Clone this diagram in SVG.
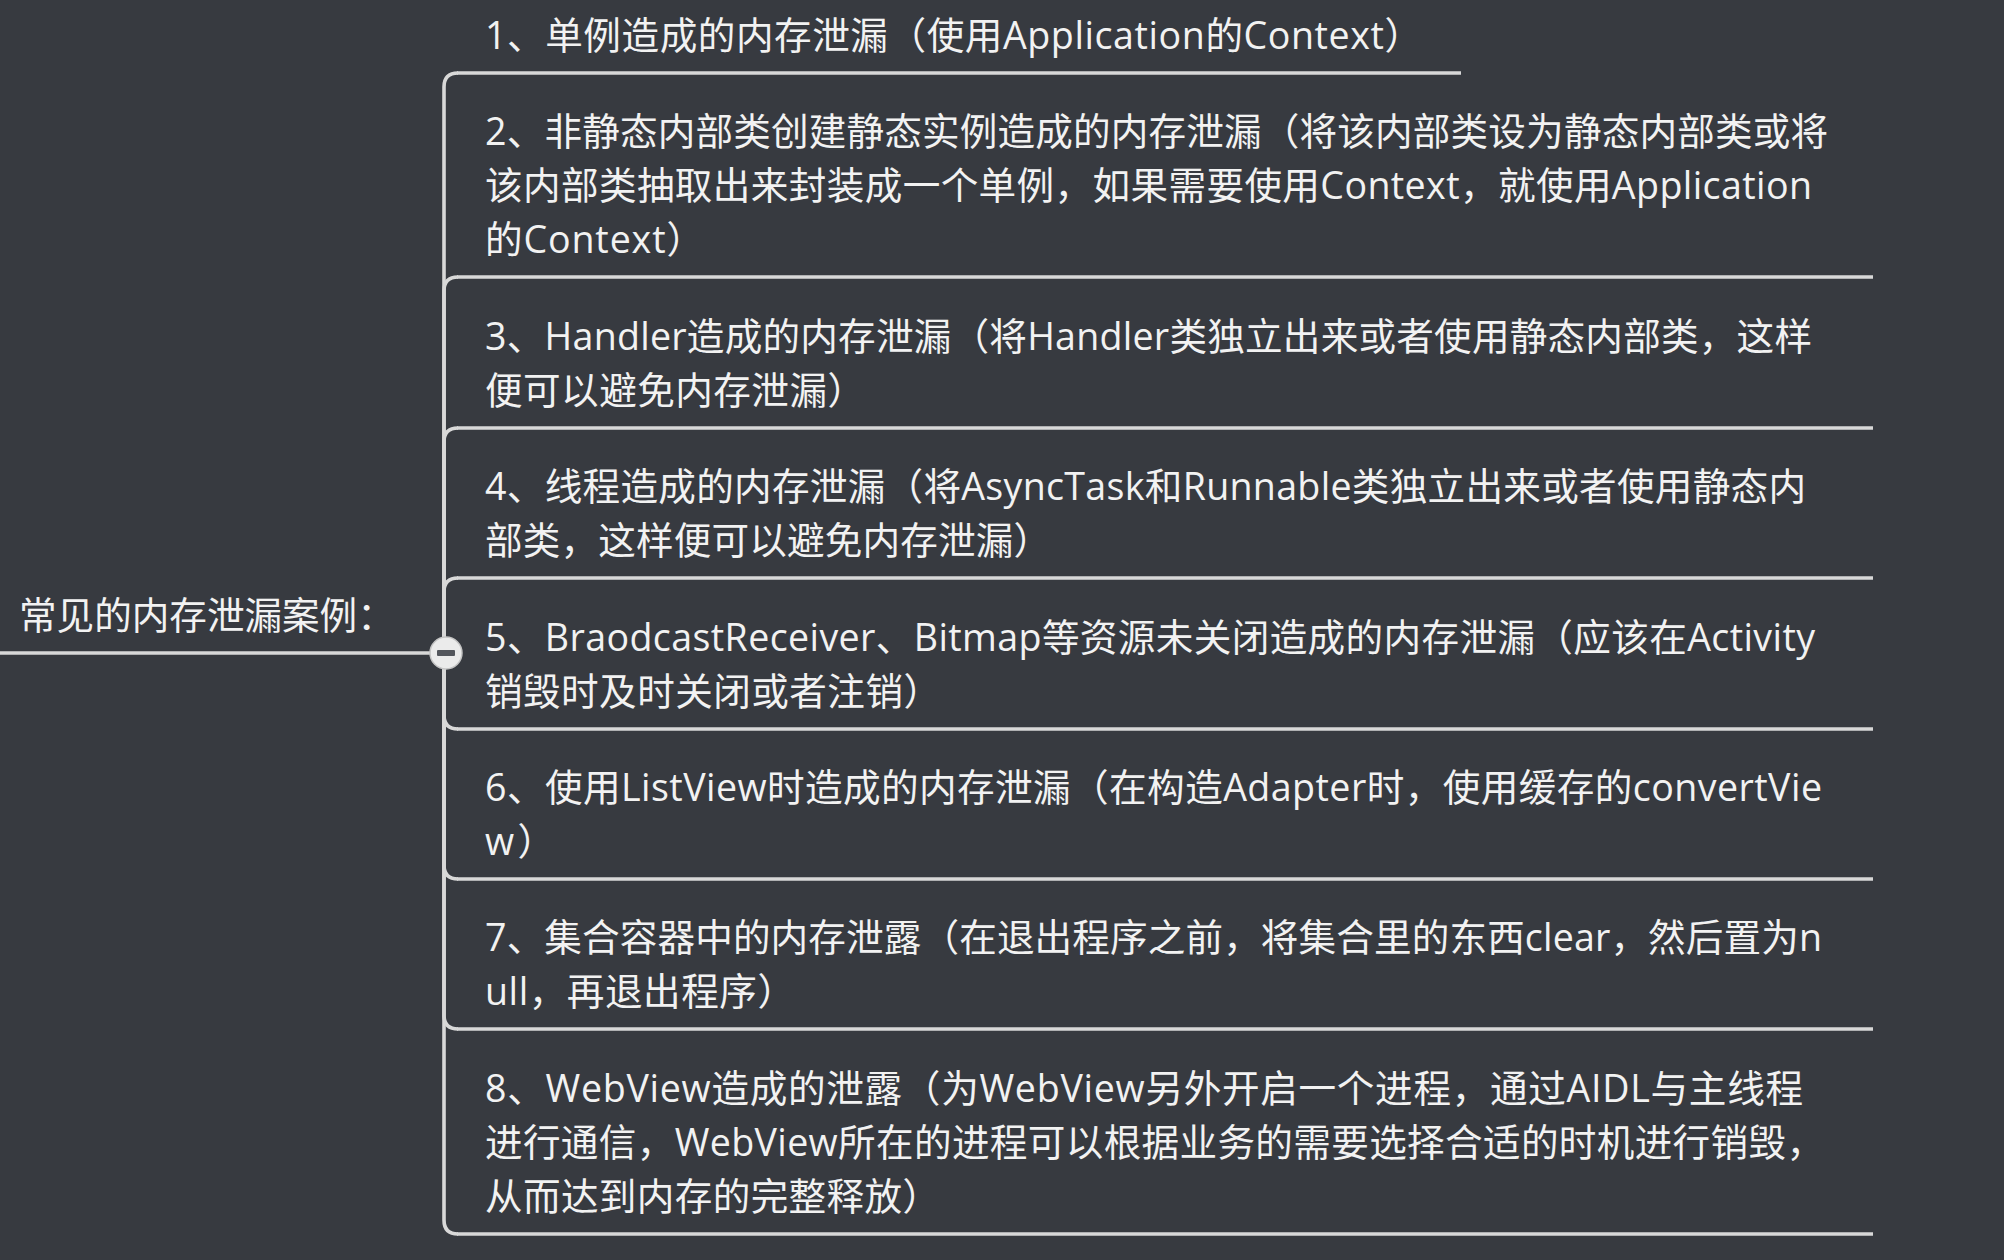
<svg xmlns="http://www.w3.org/2000/svg" width="2004" height="1260" viewBox="0 0 2004 1260">
<style>
.bg{fill:#373a40}
.t{font-family:"Open Sans","Noto Sans CJK SC",sans-serif;font-size:37.6px;fill:#f2f2f2}
.ul{stroke:#d8d8d8;stroke-width:3.6;fill:none;stroke-linecap:butt}
.cn{stroke:#d8d8d8;stroke-width:3.6;fill:none}
</style>
<rect class="bg" x="0" y="0" width="2004" height="1260"/>
<g id="connectors">
<path class="cn" d="M444 653 V87 Q444 73 458 73"/>
<path class="cn" d="M444 653 V291 Q444 277 458 277"/>
<path class="cn" d="M444 653 V442 Q444 428 458 428"/>
<path class="cn" d="M444 653 V592 Q444 578 458 578"/>
<path class="cn" d="M444 653 V715 Q444 729 458 729"/>
<path class="cn" d="M444 653 V865 Q444 879 458 879"/>
<path class="cn" d="M444 653 V1015 Q444 1029 458 1029"/>
<path class="cn" d="M444 653 V1220 Q444 1234 458 1234"/>
</g>
<g id="root">
<line class="ul" x1="0" y1="653" x2="432" y2="653"/>
<text class="t" x="19" y="629">常见的内存泄漏案例：</text>
</g>
<g id="collapse">
<circle cx="446" cy="653" r="16" fill="#ebebeb" stroke="#c4c4c4" stroke-width="1.5"/>
<rect x="437" y="650" width="18" height="6" rx="1" fill="#53565c"/>
</g>
<g id="item1">
<line class="ul" x1="457" y1="73" x2="1461" y2="73"/>
<text class="t" x="485" y="49" textLength="937" lengthAdjust="spacing">1、单例造成的内存泄漏（使用Application的Context）</text>
</g>
<g id="item2">
<line class="ul" x1="457" y1="277" x2="1873" y2="277"/>
<text class="t" x="485" y="145" textLength="1343" lengthAdjust="spacing">2、非静态内部类创建静态实例造成的内存泄漏（将该内部类设为静态内部类或将</text>
<text class="t" x="485" y="199" textLength="1327" lengthAdjust="spacing">该内部类抽取出来封装成一个单例，如果需要使用Context，就使用Application</text>
<text class="t" x="485" y="253" textLength="219" lengthAdjust="spacing">的Context）</text>
</g>
<g id="item3">
<line class="ul" x1="457" y1="428" x2="1873" y2="428"/>
<text class="t" x="485" y="350" textLength="1327" lengthAdjust="spacing">3、Handler造成的内存泄漏（将Handler类独立出来或者使用静态内部类，这样</text>
<text class="t" x="485" y="404" textLength="380" lengthAdjust="spacing">便可以避免内存泄漏）</text>
</g>
<g id="item4">
<line class="ul" x1="457" y1="578" x2="1873" y2="578"/>
<text class="t" x="485" y="500" textLength="1321" lengthAdjust="spacing">4、线程造成的内存泄漏（将AsyncTask和Runnable类独立出来或者使用静态内</text>
<text class="t" x="485" y="554" textLength="566" lengthAdjust="spacing">部类，这样便可以避免内存泄漏）</text>
</g>
<g id="item5">
<line class="ul" x1="457" y1="729" x2="1873" y2="729"/>
<text class="t" x="485" y="651" textLength="1330" lengthAdjust="spacing">5、BraodcastReceiver、Bitmap等资源未关闭造成的内存泄漏（应该在Activity</text>
<text class="t" x="485" y="705" textLength="456" lengthAdjust="spacing">销毁时及时关闭或者注销）</text>
</g>
<g id="item6">
<line class="ul" x1="457" y1="879" x2="1873" y2="879"/>
<text class="t" x="485" y="801" textLength="1337" lengthAdjust="spacing">6、使用ListView时造成的内存泄漏（在构造Adapter时，使用缓存的convertVie</text>
<text class="t" x="485" y="855" textLength="70" lengthAdjust="spacing">w）</text>
</g>
<g id="item7">
<line class="ul" x1="457" y1="1029" x2="1873" y2="1029"/>
<text class="t" x="485" y="951" textLength="1337" lengthAdjust="spacing">7、集合容器中的内存泄露（在退出程序之前，将集合里的东西clear，然后置为n</text>
<text class="t" x="485" y="1005" textLength="310" lengthAdjust="spacing">ull，再退出程序）</text>
</g>
<g id="item8">
<line class="ul" x1="457" y1="1234" x2="1873" y2="1234"/>
<text class="t" x="485" y="1102" textLength="1318" lengthAdjust="spacing">8、WebView造成的泄露（为WebView另外开启一个进程，通过AIDL与主线程</text>
<text class="t" x="485" y="1156" textLength="1339" lengthAdjust="spacing">进行通信，WebView所在的进程可以根据业务的需要选择合适的时机进行销毁，</text>
<text class="t" x="485" y="1210" textLength="455" lengthAdjust="spacing">从而达到内存的完整释放）</text>
</g>
</svg>
